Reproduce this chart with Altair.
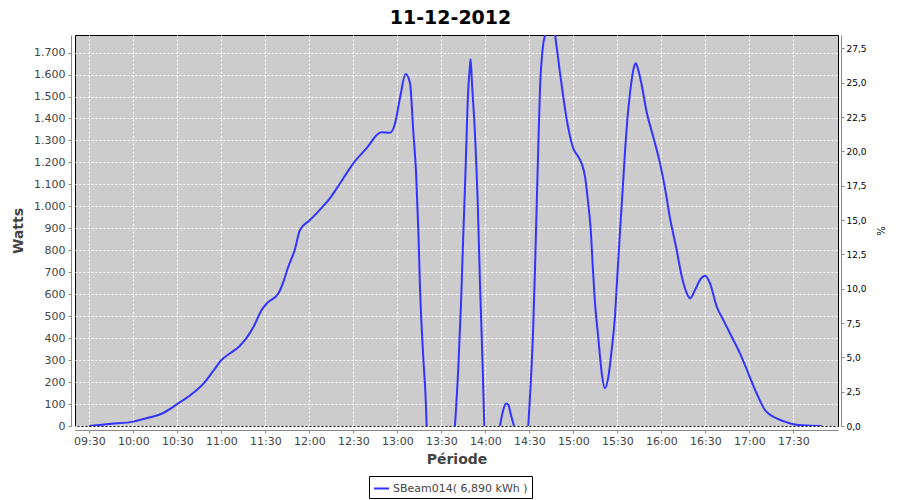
import altair as alt
import pandas as pd

# ---- data ----
times = [
    "09:30:00", "09:37:00", "09:45:00", "10:00:00", "10:09:00", "10:20:00", "10:30:00",
    "10:39:00", "10:48:00", "10:55:00", "11:00:00", "11:06:00", "11:12:00", "11:17:00",
    "11:22:00", "11:27:30", "11:31:00", "11:39:00", "11:42:00", "11:45:40", "11:50:00",
    "11:53:40", "12:00:30", "12:07:00", "12:14:00", "12:21:00", "12:30:00", "12:39:00",
    "12:49:00", "12:55:00", "12:58:30", "13:02:00", "13:05:40", "13:08:40", "13:11:00",
    "13:12:50", "13:14:25", "13:15:30", "13:17:50", "13:19:35", "13:20:00", "13:39:20",
    "13:41:35", "13:43:30", "13:45:00", "13:46:35", "13:48:00", "13:49:35", "13:50:00",
    "13:51:00", "13:53:00", "13:54:50", "13:56:25", "13:58:15", "13:59:20", "14:10:00",
    "14:12:15", "14:14:10", "14:15:45", "14:17:30", "14:19:35", "14:29:20", "14:31:10",
    "14:32:40", "14:33:55", "14:35:00", "14:36:10", "14:37:20", "14:39:10", "14:41:10",
    "14:43:30", "14:46:00", "14:48:40", "14:51:00", "14:53:10", "14:55:35", "14:57:50",
    "15:00:00", "15:03:25", "15:05:40", "15:08:00", "15:10:10", "15:11:55", "15:13:10",
    "15:14:50", "15:17:00", "15:19:25", "15:21:35", "15:23:55", "15:26:10", "15:28:25",
    "15:30:00", "15:31:55", "15:33:40", "15:35:20", "15:36:50", "15:38:40", "15:40:55",
    "15:42:35", "15:44:20", "15:46:35", "15:50:00", "15:54:30", "15:59:00", "16:03:40",
    "16:05:00", "16:10:30", "16:14:00", "16:17:25", "16:19:35", "16:23:00", "16:26:25",
    "16:30:00", "16:33:10", "16:37:50", "16:42:20", "16:48:00", "16:53:40", "16:59:20",
    "17:05:00", "17:10:40", "17:16:25", "17:23:00", "17:30:00", "17:40:00", "17:49:30",
]
watts = [
    0, 5, 10, 20, 35, 58, 100,
    141, 194, 255, 300, 331, 361, 399,
    452, 528, 558, 604, 650, 725, 800,
    892, 938, 983, 1036, 1105, 1196, 1264,
    1337, 1335, 1378, 1499, 1602, 1560, 1332,
    1150, 877, 627, 300, 88, 0, 0,
    263, 566, 869, 1173, 1476, 1643, 1670,
    1552, 1325, 1021, 642, 263, 0, 0,
    73, 103, 96, 50, 0, 0, 217,
    445, 718, 991, 1279, 1537, 1719, 1790,
    1850, 1840, 1726, 1605, 1499, 1393, 1317,
    1264, 1226, 1196, 1135, 1014, 892, 741,
    558, 406, 240, 172, 224, 346, 498,
    680, 892, 1074, 1256, 1393, 1514, 1620,
    1651, 1620, 1555, 1430, 1317, 1200, 1040,
    983, 801, 680, 604, 581, 619, 665,
    684, 650, 543, 482, 406, 331, 240,
    149, 73, 42, 23, 8, 2, 0,
]
series_name = "SBeam014( 6,890 kWh )"
day = "2012-12-11"
x_tick_labels = ["09:30", "10:00", "10:30", "11:00", "11:30", "12:00", "12:30", "13:00",
                 "13:30", "14:00", "14:30", "15:00", "15:30", "16:00", "16:30", "17:00", "17:30"]
watt_ticks = [0, 100, 200, 300, 400, 500, 600, 700, 800, 900, 1000, 1100, 1200, 1300,
              1400, 1500, 1600, 1700]
pct_ticks = [0, 2.5, 5, 7.5, 10, 12.5, 15, 17.5, 20, 22.5, 25, 27.5]
watts_max = 1780
watts_per_pct = 62.5

# split the curve where it rests at zero (two consecutive zero readings = idle gap)
segments = []
seg = 0
for i, w in enumerate(watts):
    if i > 0 and w == 0 and watts[i - 1] == 0:
        seg += 1
    segments.append(seg)

df = pd.DataFrame({
    "t": [day + "T" + t for t in times],
    "W": watts,
    "seg": segments,
    "serie": [series_name] * len(times),
})


def dt(h, m, s=0):
    return alt.DateTime(year=2012, month=12, date=11, hours=h, minutes=m, seconds=s)


x_values = [dt(int(s[:2]), int(s[3:])) for s in x_tick_labels]

FONT = "DejaVu Sans"
GRAY = "#444444"
AXC = "#888888"

x_enc = alt.X(
    "t:T",
    scale=alt.Scale(domain=[dt(9, 20, 15), dt(18, 0, 30)]),
    axis=alt.Axis(
        values=x_values, format="%H:%M", title="Période", labelAngle=0,
        labelFlush=False, offset=4, domainColor=AXC, tickColor=AXC, tickSize=3,
        labelFont=FONT, labelFontSize=11, labelColor=GRAY, labelPadding=2,
        titleFont=FONT, titleFontSize=14, titleFontWeight="bold", titleColor=GRAY,
        titlePadding=6,
        grid=True, gridColor="white", gridDash=[2, 2], gridWidth=1, gridOpacity=1,
    ),
)

line = alt.Chart(df).mark_line(
    clip=True, strokeWidth=2, interpolate="monotone"
).encode(
    x=x_enc,
    y=alt.Y(
        "W:Q",
        scale=alt.Scale(domain=[0, watts_max], nice=False, zero=True),
        axis=alt.Axis(
            orient="left", values=watt_ticks, title="Watts",
            labelExpr="replace(format(datum.value, ','), ',', '.')",
            offset=4, domainColor=AXC, tickColor=AXC, tickSize=3,
            labelFont=FONT, labelFontSize=11, labelColor=GRAY, labelPadding=3,
            titleFont=FONT, titleFontSize=14, titleFontWeight="bold", titleColor=GRAY,
            titlePadding=8,
            grid=True, gridColor="white", gridDash=[2, 2], gridWidth=1, gridOpacity=1,
        ),
    ),
    detail="seg:N",
    color=alt.Color(
        "serie:N",
        scale=alt.Scale(range=["#3333ff"]),
        legend=alt.Legend(
            title=None, orient="none", legendX=294, legendY=441,
            strokeColor="black", fillColor="white", padding=4, cornerRadius=0,
            symbolType="stroke", symbolSize=225, symbolStrokeWidth=2,
            labelFont=FONT, labelFontSize=11, labelColor=GRAY, labelOffset=3,
        ),
    ),
)

right = alt.Chart(df).transform_calculate(
    pct="datum.W / %s" % watts_per_pct
).mark_line(opacity=0, clip=True).encode(
    x=alt.X("t:T"),
    y=alt.Y(
        "pct:Q",
        scale=alt.Scale(domain=[0, watts_max / watts_per_pct], nice=False, zero=True),
        axis=alt.Axis(
            orient="right", values=pct_ticks, title="%",
            labelExpr="replace(format(datum.value, '.1f'), '.', ',')",
            offset=3, domainColor=AXC, tickColor=AXC, tickSize=3,
            labelFont=FONT, labelFontSize=9, labelColor="black", labelPadding=2,
            titleFont=FONT, titleFontSize=10, titleFontWeight="normal", titleColor="black",
            titlePadding=8, grid=False,
        ),
    ),
)

chart = alt.layer(line, right).resolve_scale(y="independent").properties(
    width=763,
    height=391,
    title=alt.TitleParams(
        "11-12-2012", font=FONT, fontSize=19, fontWeight="bold", color="black",
        dx=-6, offset=7,
    ),
    autosize=alt.AutoSizeParams(type="none"),
    padding={"left": 67, "top": 27, "right": 54, "bottom": 80},
    background="white",
).configure_view(
    fill="#cccccc", stroke="black", strokeWidth=1
)

chart.save("out.html", embed_options={"renderer": "svg", "actions": False})
